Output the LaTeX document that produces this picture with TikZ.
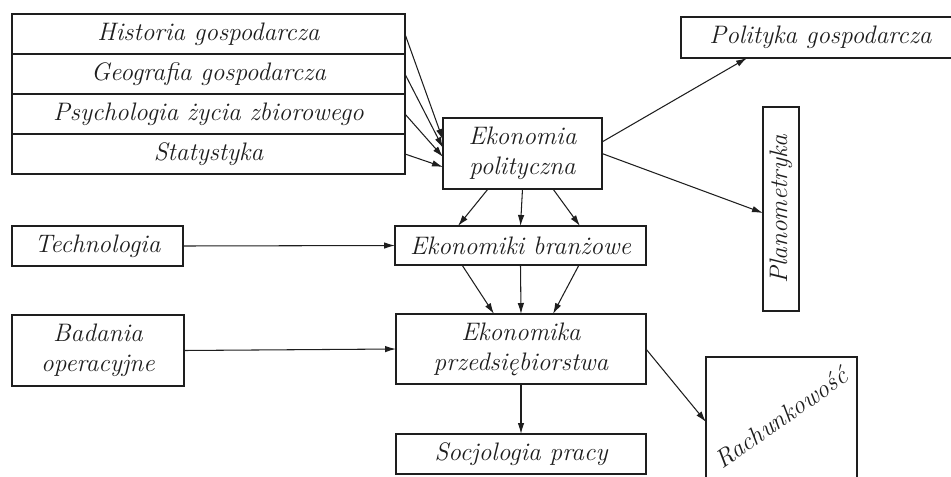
\documentclass[tikz,border=0pt]{standalone}
\usepackage{fontspec}
\usepackage{tikz}
\usetikzlibrary{arrows.meta,positioning}
\definecolor{ink}{HTML}{1E1E1E}
\newcommand{\diagfont}{\fontsize{14.4}{17}\selectfont\itshape\addfontfeatures{LetterSpace=10}}
\tikzstyle{box} = [rectangle, draw=ink, line width=0.8pt, inner sep=0pt, outer sep=0pt,
    text=ink, align=center, font=\diagfont]
\tikzstyle{rowbox} = [box, minimum width=7.86cm, minimum height=0.8cm]
\tikzstyle{label} = [text=ink, inner sep=0pt, font=\diagfont]
\tikzstyle{arrow} = [-{Latex[length=2.2mm,width=1.3mm]}, line width=0.6pt, ink]

\begin{document}
\begin{tikzpicture}[x=0.02cm, y=-0.02cm]
\useasboundingbox (0,0) rectangle (951,477);
\clip (0,0) rectangle (951,477);

% left stack
\node[rowbox] (hist) at (208.5,34) {Historia gospodarcza};
\node[rowbox, below=0pt of hist] (geo) {Geografia gospodarcza};
\node[rowbox, below=0pt of geo] (psych) {Psychologia życia zbiorowego};
\node[rowbox, below=0pt of psych] (stat) {Statystyka};

\node[box, minimum width=3.42cm, minimum height=0.8cm] (tech) at (97.5,246) {Technologia};
\node[box, minimum width=3.44cm, minimum height=1.42cm] (bad) at (98,350.5) {Badania\\operacyjne};

% middle column
\node[box, minimum width=3.18cm, minimum height=1.42cm] (ekp) at (522.5,153.5) {Ekonomia\\polityczna};
\node[box, minimum width=5.02cm, minimum height=0.78cm] (ekb) at (520.5,245.5) {Ekonomiki branżowe};
\node[box, minimum width=5.0cm, minimum height=1.4cm] (ekpr) at (521,349) {Ekonomika\\przedsiębiorstwa};
\node[box, minimum width=5.0cm, minimum height=0.8cm] (soc) at (521,454) {Socjologia pracy};

% right side
\node[box, minimum width=5.58cm, minimum height=0.82cm] (pol) at (820.5,37.5) {Polityka gospodarcza};
\node[box, minimum width=0.72cm, minimum height=4.08cm] (plan) at (781,209) {};
\node[label, rotate=90] (plantxt) at (plan.center) {Planometryka};
\node[box, minimum width=3.02cm, minimum height=2.86cm] (rach) at (781.5,428.5) {};
\node[label, rotate=35] (rachtxt) at (781,418) {Rachunkowość};

\draw[arrow] (hist.east) -- ([yshift=0.27cm]ekp.west);
\draw[arrow] (geo.east) -- ([yshift=0.11cm]ekp.west);
\draw[arrow] (psych.east) -- ([yshift=-0.07cm]ekp.west);
\draw[arrow] (stat.east) -- ([yshift=-0.27cm]ekp.west);

\draw[arrow] ([xshift=-0.69cm]ekp.south) -- ([xshift=-1.25cm]ekb.north);
\draw[arrow] (ekp.south) -- (ekb.north);
\draw[arrow] ([xshift=0.61cm]ekp.south) -- ([xshift=1.19cm]ekb.north);

\draw[arrow] ([xshift=-1.17cm]ekb.south) -- ([xshift=-0.54cm]ekpr.north);
\draw[arrow] (ekb.south) -- (ekpr.north);
\draw[arrow] ([xshift=1.17cm]ekb.south) -- ([xshift=0.64cm]ekpr.north);

\draw[arrow] (tech.east) -- (ekb.west);
\draw[arrow] (bad.east) -- (ekpr.west);
\draw[arrow] (ekpr.south) -- (soc.north);

\draw[arrow] ([yshift=0.23cm]ekp.east) -- ([xshift=-1.47cm]pol.south);
\draw[arrow] (ekp.east) -- ([yshift=-0.08cm]plan.west);
\draw[arrow] (ekpr.east) -- ([yshift=0.13cm]rach.west);
\end{tikzpicture}
\end{document}
